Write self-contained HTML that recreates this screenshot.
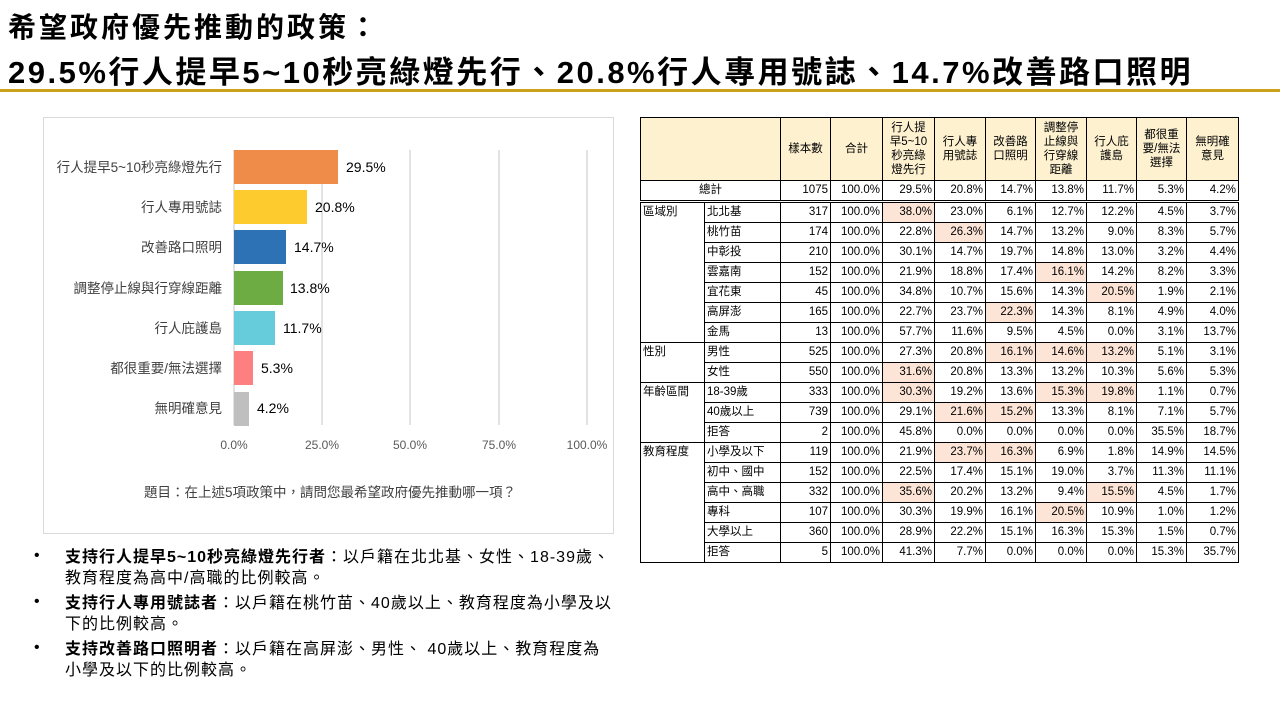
<!DOCTYPE html>
<html><head><meta charset="utf-8"><style>
body{margin:0;width:1280px;height:720px;background:#fff;position:relative;overflow:hidden;font-family:"Liberation Sans","Noto Sans CJK TC",sans-serif;color:#000}
.a{position:absolute;white-space:nowrap}
h1{position:absolute;margin:0;left:8px;font-weight:bold;white-space:nowrap}
table{position:absolute;left:640px;top:117px;border-collapse:collapse;table-layout:fixed;font-size:11.5px}
td{border:1px solid #000;padding:0 2px;height:19px;line-height:19px;text-align:right;white-space:nowrap;overflow:hidden}
thead td{background:#fdf1d0;text-align:center;line-height:14px;height:62px;font-size:11.5px}
td.l{text-align:left}
td.g{text-align:left;vertical-align:top}
.p{background:#fce4d6}
tr.t td{border-bottom:3px double #000}
.bl{position:absolute;font-size:16px;line-height:21px;left:65px;width:552px;letter-spacing:1px}
.bl b{font-weight:bold}
.dot{position:absolute;left:34px;font-size:16px}
</style></head><body>
<h1 style="top:6px;font-size:28px;letter-spacing:3px">希望政府優先推動的政策：</h1>
<h1 style="top:47px;font-size:31px;letter-spacing:2.5px">29.5%行人提早5~10秒亮綠燈先行、20.8%行人專用號誌、14.7%改善路口照明</h1>
<div class="a" style="left:0;top:89px;width:1280px;height:3px;background:#c9a21a"></div>

<div class="a" style="left:43px;top:117px;width:569px;height:415px;border:1px solid #d9d9d9"></div>
<svg class="a" style="left:0;top:0" width="640" height="540" font-family="Liberation Sans, Noto Sans CJK TC, sans-serif">
<g stroke="#d9d9d9" stroke-width="1.5">
<line x1="234" y1="150" x2="234" y2="425"/><line x1="322" y1="150" x2="322" y2="425"/><line x1="410" y1="150" x2="410" y2="425"/><line x1="499" y1="150" x2="499" y2="425"/><line x1="587" y1="150" x2="587" y2="425"/></g>
<rect x="234" y="150" width="104" height="34" fill="#ef8c4a"/>
<rect x="234" y="190" width="73" height="34" fill="#fecb2f"/>
<rect x="234" y="230" width="52" height="34" fill="#2e72b6"/>
<rect x="234" y="271" width="49" height="34" fill="#6cac43"/>
<rect x="234" y="311" width="41" height="34" fill="#66cbdb"/>
<rect x="234" y="351" width="19" height="34" fill="#fe7f7f"/>
<rect x="234" y="392" width="15" height="34" fill="#bfbfbf"/>
<g font-size="13.5" fill="#404040" text-anchor="end">
<text x="222" y="172">行人提早5~10秒亮綠燈先行</text>
<text x="222" y="212">行人專用號誌</text>
<text x="222" y="252">改善路口照明</text>
<text x="222" y="293">調整停止線與行穿線距離</text>
<text x="222" y="333">行人庇護島</text>
<text x="222" y="373">都很重要/無法選擇</text>
<text x="222" y="413">無明確意見</text></g>
<g font-size="14" fill="#000">
<text x="346" y="172">29.5%</text><text x="315" y="212">20.8%</text><text x="294" y="252">14.7%</text><text x="290" y="293">13.8%</text><text x="283" y="333">11.7%</text><text x="261" y="373">5.3%</text><text x="257" y="413">4.2%</text></g>
<g font-size="12" fill="#595959" text-anchor="middle">
<text x="234" y="449">0.0%</text><text x="322" y="449">25.0%</text><text x="410" y="449">50.0%</text><text x="499" y="449">75.0%</text><text x="587" y="449">100.0%</text></g>
<text x="330" y="497" font-size="13.5" fill="#404040" text-anchor="middle">題目：在上述5項政策中，請問您最希望政府優先推動哪一項？</text>
</svg>

<span class="dot" style="top:547px">•</span>
<div class="bl" style="top:547px"><b>支持行人提早5~10秒亮綠燈先行者</b>：以戶籍在北北基、女性、18-39歲、教育程度為高中/高職的比例較高。</div>
<span class="dot" style="top:593px">•</span>
<div class="bl" style="top:593px"><b>支持行人專用號誌者</b>：以戶籍在桃竹苗、40歲以上、教育程度為小學及以下的比例較高。</div>
<span class="dot" style="top:639px">•</span>
<div class="bl" style="top:639px"><b>支持改善路口照明者</b>：以戶籍在高屏澎、男性、 40歲以上、教育程度為小學及以下的比例較高。</div>

<table>
<colgroup><col style="width:64px"><col style="width:76px"><col style="width:50px"><col style="width:52px"><col style="width:52px"><col style="width:51px"><col style="width:50px"><col style="width:51px"><col style="width:50px"><col style="width:50px"><col style="width:52px"></colgroup>
<thead><tr><td colspan="2"></td><td>樣本數</td><td>合計</td><td>行人提<br>早5~10<br>秒亮綠<br>燈先行</td><td>行人專<br>用號誌</td><td>改善路<br>口照明</td><td>調整停<br>止線與<br>行穿線<br>距離</td><td>行人庇<br>護島</td><td>都很重<br>要/無法<br>選擇</td><td>無明確<br>意見</td></tr></thead>
<tbody>
<tr class="t"><td colspan="2" style="text-align:center">總計</td><td>1075</td><td>100.0%</td><td>29.5%</td><td>20.8%</td><td>14.7%</td><td>13.8%</td><td>11.7%</td><td>5.3%</td><td>4.2%</td></tr>
<tr><td class="g" rowspan="7">區域別</td><td class="l">北北基</td><td>317</td><td>100.0%</td><td class="p">38.0%</td><td>23.0%</td><td>6.1%</td><td>12.7%</td><td>12.2%</td><td>4.5%</td><td>3.7%</td></tr>
<tr><td class="l">桃竹苗</td><td>174</td><td>100.0%</td><td>22.8%</td><td class="p">26.3%</td><td>14.7%</td><td>13.2%</td><td>9.0%</td><td>8.3%</td><td>5.7%</td></tr>
<tr><td class="l">中彰投</td><td>210</td><td>100.0%</td><td>30.1%</td><td>14.7%</td><td>19.7%</td><td>14.8%</td><td>13.0%</td><td>3.2%</td><td>4.4%</td></tr>
<tr><td class="l">雲嘉南</td><td>152</td><td>100.0%</td><td>21.9%</td><td>18.8%</td><td>17.4%</td><td class="p">16.1%</td><td>14.2%</td><td>8.2%</td><td>3.3%</td></tr>
<tr><td class="l">宜花東</td><td>45</td><td>100.0%</td><td>34.8%</td><td>10.7%</td><td>15.6%</td><td>14.3%</td><td class="p">20.5%</td><td>1.9%</td><td>2.1%</td></tr>
<tr><td class="l">高屏澎</td><td>165</td><td>100.0%</td><td>22.7%</td><td>23.7%</td><td class="p">22.3%</td><td>14.3%</td><td>8.1%</td><td>4.9%</td><td>4.0%</td></tr>
<tr><td class="l">金馬</td><td>13</td><td>100.0%</td><td>57.7%</td><td>11.6%</td><td>9.5%</td><td>4.5%</td><td>0.0%</td><td>3.1%</td><td>13.7%</td></tr>
<tr><td class="g" rowspan="2">性別</td><td class="l">男性</td><td>525</td><td>100.0%</td><td>27.3%</td><td>20.8%</td><td class="p">16.1%</td><td class="p">14.6%</td><td class="p">13.2%</td><td>5.1%</td><td>3.1%</td></tr>
<tr><td class="l">女性</td><td>550</td><td>100.0%</td><td class="p">31.6%</td><td>20.8%</td><td>13.3%</td><td>13.2%</td><td>10.3%</td><td>5.6%</td><td>5.3%</td></tr>
<tr><td class="g" rowspan="3">年齡區間</td><td class="l">18-39歲</td><td>333</td><td>100.0%</td><td class="p">30.3%</td><td>19.2%</td><td>13.6%</td><td class="p">15.3%</td><td class="p">19.8%</td><td>1.1%</td><td>0.7%</td></tr>
<tr><td class="l">40歲以上</td><td>739</td><td>100.0%</td><td>29.1%</td><td class="p">21.6%</td><td class="p">15.2%</td><td>13.3%</td><td>8.1%</td><td>7.1%</td><td>5.7%</td></tr>
<tr><td class="l">拒答</td><td>2</td><td>100.0%</td><td>45.8%</td><td>0.0%</td><td>0.0%</td><td>0.0%</td><td>0.0%</td><td>35.5%</td><td>18.7%</td></tr>
<tr><td class="g" rowspan="6">教育程度</td><td class="l">小學及以下</td><td>119</td><td>100.0%</td><td>21.9%</td><td class="p">23.7%</td><td class="p">16.3%</td><td>6.9%</td><td>1.8%</td><td>14.9%</td><td>14.5%</td></tr>
<tr><td class="l">初中、國中</td><td>152</td><td>100.0%</td><td>22.5%</td><td>17.4%</td><td>15.1%</td><td>19.0%</td><td>3.7%</td><td>11.3%</td><td>11.1%</td></tr>
<tr><td class="l">高中、高職</td><td>332</td><td>100.0%</td><td class="p">35.6%</td><td>20.2%</td><td>13.2%</td><td>9.4%</td><td class="p">15.5%</td><td>4.5%</td><td>1.7%</td></tr>
<tr><td class="l">專科</td><td>107</td><td>100.0%</td><td>30.3%</td><td>19.9%</td><td>16.1%</td><td class="p">20.5%</td><td>10.9%</td><td>1.0%</td><td>1.2%</td></tr>
<tr><td class="l">大學以上</td><td>360</td><td>100.0%</td><td>28.9%</td><td>22.2%</td><td>15.1%</td><td>16.3%</td><td>15.3%</td><td>1.5%</td><td>0.7%</td></tr>
<tr><td class="l">拒答</td><td>5</td><td>100.0%</td><td>41.3%</td><td>7.7%</td><td>0.0%</td><td>0.0%</td><td>0.0%</td><td>15.3%</td><td>35.7%</td></tr>
</tbody></table>
</body></html>
